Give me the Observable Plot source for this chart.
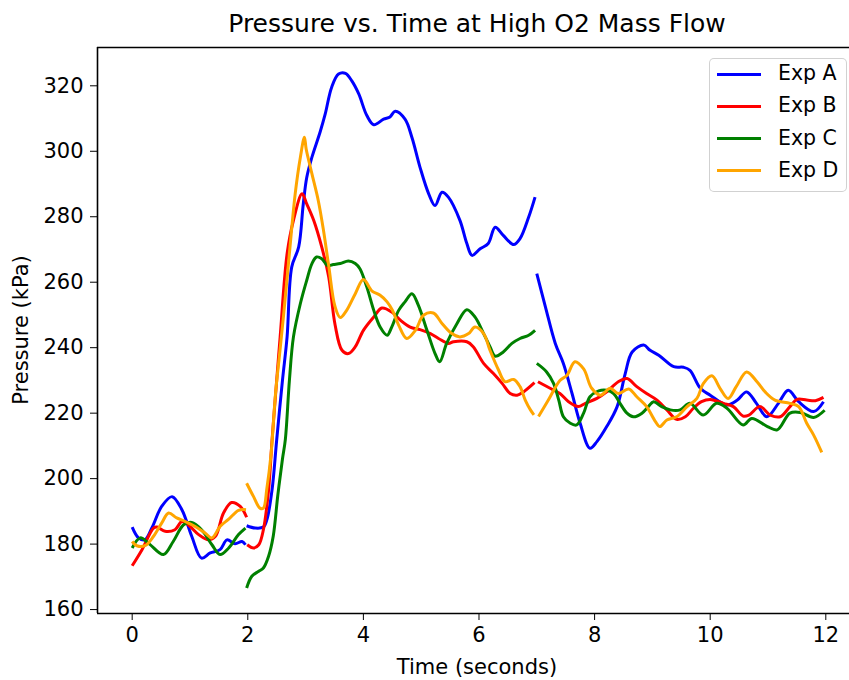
<!DOCTYPE html>
<html>
<head>
<meta charset="utf-8">
<script src="https://cdn.jsdelivr.net/npm/d3@7"></script>
<script src="https://cdn.jsdelivr.net/npm/@observablehq/plot@0.6"></script>
<style>
  html, body { margin: 0; padding: 0; background: white; }
  #wrap { position: relative; width: 849px; height: 680px; overflow: hidden; font-family: "DejaVu Sans", sans-serif; color: black; }
  .ovl { position: absolute; white-space: nowrap; line-height: 1; }
  #title { left: 477px; top: 23px; transform: translate(-50%, -50%); font-size: 25px; }
  #xlab { left: 477px; top: 667px; transform: translate(-50%, -50%); font-size: 21px; }
  #ylab { left: 21px; top: 330px; transform: translate(-50%, -50%) rotate(-90deg); font-size: 21px; }
  #legend { left: 709px; top: 58px; width: 136px; height: 132px; border: 1.5px solid rgba(204,204,204,0.9); border-radius: 5px; background: rgba(255,255,255,0.85); }
  .row { position: absolute; left: 0; height: 0; }
  .row .sw { position: absolute; left: 7px; width: 44px; height: 3px; top: -1.5px; }
  .row .lb { position: absolute; left: 68px; top: -11px; font-size: 20.5px; line-height: 1; }
</style>
</head>
<body>
<div id="wrap">
  <div id="chart"></div>
  <div class="ovl" id="title">Pressure vs. Time at High O2 Mass Flow</div>
  <div class="ovl" id="xlab">Time (seconds)</div>
  <div class="ovl" id="ylab">Pressure (kPa)</div>
  <div class="ovl" id="legend"></div>
</div>
<script>
// ---- data (NaN marks a break between recorded segments) ----
const xTicks = [0, 2, 4, 6, 8, 10, 12];
const yTicks = [160, 180, 200, 220, 240, 260, 280, 300, 320];
const seriesNames = ["Exp A", "Exp B", "Exp C", "Exp D"];
const seriesColors = ["blue", "red", "green", "orange"];

const A_time = [0, 0.11, 0.22, 0.34, 0.51, 0.69, 0.86, 1.03, 1.2, 1.35, 1.52, 1.64, 1.78, 1.9, 1.96, NaN,
  1.98, 2.13, 2.27, 2.33, 2.42, 2.5, 2.6, 2.68, 2.76, 2.88, 2.96, 3.02, 3.11, 3.25, 3.34, 3.45, 3.57, 3.69, 3.8, 3.92, 4.06, 4.18, 4.35, 4.46, 4.55, 4.72, 4.84, 4.98, 5.13, 5.24, 5.36, 5.47, 5.67, 5.79, 5.88, 6.02, 6.16, 6.28, 6.42, 6.6, 6.71, 6.86, 6.97, NaN,
  7.0, 7.15, 7.32, 7.46, 7.61, 7.75, 7.92, 8.04, 8.21, 8.39, 8.53, 8.65, 8.85, 8.96, 9.11, 9.37, 9.54, 9.65, 9.83, 10.0, 10.29, 10.47, 10.63, 10.8, 10.98, 11.18, 11.35, 11.53, 11.79, 11.96];
const A_kPa = [185.2, 181.9, 181.3, 184.9, 191.5, 194.5, 190.5, 182.4, 175.7, 177.3, 178.3, 181.3, 180.1, 180.8, 179.8, NaN,
  185.6, 184.9, 185.2, 187.4, 196.6, 211.8, 230, 243.3, 264.6, 270.7, 283.9, 292.0, 298.2, 305.8, 311.4, 319.5, 323.6, 323.8, 321.5, 317.5, 310.9, 308.1, 309.8, 310.5, 312.2, 309.8, 304.2, 295.1, 287, 283.4, 287.5, 286, 278.9, 271.8, 268.2, 270.2, 271.8, 276.8, 274.3, 271.5, 273.3, 279.9, 286, NaN,
  262.6, 252.4, 241.3, 235.2, 226, 216.9, 209.3, 211.3, 215.9, 222, 232.1, 238.7, 240.8, 239.2, 237.7, 234.2, 234, 233.1, 227.6, 225.5, 222.5, 224, 226.5, 223, 218.9, 223, 227, 223.5, 220.5, 223.5];

const B_time = [0, 0.17, 0.37, 0.43, 0.57, 0.74, 0.86, 0.97, 1.15, 1.32, 1.44, 1.58, 1.72, 1.87, 1.98, NaN,
  1.99, 2.1, 2.19, 2.27, 2.36, 2.42, 2.5, 2.56, 2.68, 2.79, 2.94, 3.02, 3.14, 3.28, 3.4, 3.51, 3.63, 3.74, 3.86, 4.0, 4.18, 4.32, 4.49, 4.64, 4.81, 4.98, 5.16, 5.3, 5.47, 5.56, 5.79, 5.9, 6.08, 6.25, 6.4, 6.54, 6.66, 6.77, 6.96, NaN,
  7.02, 7.23, 7.4, 7.55, 7.72, 7.84, 8.04, 8.21, 8.41, 8.56, 8.73, 8.9, 9.08, 9.25, 9.42, 9.57, 9.71, 9.85, 10.0, 10.23, 10.4, 10.57, 10.67, 10.86, 11.04, 11.21, 11.38, 11.5, 11.67, 11.82, 11.96];
const B_kPa = [173.4, 178.3, 184.9, 185.2, 183.9, 184.4, 186.9, 185.9, 182.9, 181.3, 182.4, 189.5, 192.7, 191.5, 188.2, NaN,
  179.8, 178.8, 179.8, 184.4, 196.6, 211.8, 230, 243.3, 268.7, 278.9, 287, 283.9, 278.9, 270.7, 261.6, 247, 239.2, 238.2, 240.3, 245.3, 249.4, 252.1, 250.9, 248.4, 246.3, 245.5, 244.3, 242.8, 241.3, 241.8, 241.8, 240.3, 235.2, 232.1, 229.1, 226, 225.5, 226.5, 229.3, NaN,
  229.6, 227.6, 226, 223.5, 222, 223, 224.5, 226.5, 229.6, 230.6, 228.1, 226, 224, 221, 218.1, 218.9, 221.5, 223.5, 224.2, 223, 222, 219.1, 219.4, 222, 219.4, 218.9, 222, 224.2, 224, 223.8, 224.8];

const C_time = [0, 0.14, 0.3, 0.54, 0.71, 0.89, 1.03, 1.2, 1.38, 1.52, 1.67, 1.84, 1.96, NaN,
  1.98, 2.07, 2.19, 2.27, 2.36, 2.44, 2.52, 2.6, 2.65, 2.72, 2.79, 2.91, 3.02, 3.11, 3.19, 3.28, 3.38, 3.48, 3.6, 3.74, 3.86, 3.94, 4.06, 4.18, 4.29, 4.41, 4.49, 4.61, 4.72, 4.84, 4.95, 5.1, 5.24, 5.32, 5.44, 5.62, 5.79, 5.93, 6.08, 6.19, 6.28, 6.42, 6.57, 6.71, 6.86, 6.97, NaN,
  7.0, 7.17, 7.29, 7.38, 7.46, 7.58, 7.69, 7.81, 7.92, 8.07, 8.21, 8.33, 8.44, 8.56, 8.67, 8.82, 8.93, 9.02, 9.16, 9.31, 9.48, 9.65, 9.88, 10.11, 10.29, 10.57, 10.72, 10.99, 11.16, 11.38, 11.56, 11.79, 11.98];
const C_kPa = [178.8, 181.9, 180, 176.8, 180.8, 185.9, 186.6, 184.4, 179.8, 176.8, 178.8, 182.9, 184.9, NaN,
  166.6, 170.2, 171.7, 172.7, 176.3, 182.4, 195, 206, 212, 230, 243.3, 253.5, 260.6, 265.7, 267.7, 267.2, 265.1, 265.4, 265.7, 266.5, 265.7, 264.1, 258.5, 251.4, 246.3, 243.8, 246.3, 251.4, 254, 256.5, 253, 245.3, 238.2, 235.7, 241.3, 247.4, 251.6, 249.4, 244.3, 240.3, 237.4, 238.7, 241.3, 242.8, 243.8, 245.3, NaN,
  235.2, 232.6, 229.1, 224, 218.9, 216.9, 216.4, 220, 225, 226.8, 227, 226, 223, 220, 218.9, 220, 222, 223.5, 222, 221, 221, 223, 219.4, 223, 221.5, 216.4, 218.4, 215.9, 214.9, 220, 220.2, 218.7, 220.9];

const D_time = [0, 0.08, 0.22, 0.37, 0.51, 0.63, 0.77, 0.92, 1.09, 1.26, 1.38, 1.52, 1.67, 1.84, 1.97, NaN,
  1.98, 2.1, 2.21, 2.27, 2.33, 2.4, 2.48, 2.55, 2.62, 2.73, 2.82, 2.91, 2.98, 3.01, 3.11, 3.22, 3.31, 3.4, 3.51, 3.6, 3.71, 3.86, 4.0, 4.15, 4.29, 4.41, 4.5, 4.61, 4.75, 4.9, 5.04, 5.21, 5.36, 5.53, 5.67, 5.82, 5.93, 6.08, 6.19, 6.34, 6.45, 6.6, 6.71, 6.8, 6.89, 6.95, NaN,
  7.03, 7.2, 7.4, 7.52, 7.66, 7.81, 7.95, 8.1, 8.27, 8.41, 8.59, 8.73, 8.9, 9.05, 9.13, 9.25, 9.42, 9.6, 9.77, 9.88, 10.03, 10.17, 10.31, 10.45, 10.63, 10.81, 10.95, 11.12, 11.38, 11.53, 11.67, 11.79, 11.93];
const D_kPa = [180.8, 179.5, 179.5, 182.4, 186.4, 189.5, 188, 186.9, 185.4, 183.4, 181.9, 185.4, 187.6, 190.3, 190.5, NaN,
  198.6, 194.5, 191, 191, 197, 207, 226, 238, 250, 270.7, 287, 298.2, 304.3, 300.7, 293.1, 284.9, 275.8, 265, 252.5, 249.2, 251.4, 256.5, 260.8, 257.3, 256, 254, 251.5, 246.9, 242.8, 245.3, 249.9, 250.6, 247.4, 244.3, 243.3, 244.3, 246.3, 244.3, 239.2, 233.1, 229.6, 230.3, 228.1, 224, 221, 219.5, NaN,
  219, 224, 230, 231.5, 235.7, 233.5, 227.6, 225.5, 227.6, 226, 227.4, 225, 222, 217.5, 215.9, 217.9, 218.9, 222, 224.5, 229, 231.4, 227.6, 224.5, 228.1, 232.6, 229.6, 226.5, 224, 223, 222, 216.9, 213.3, 208];

const times = [A_time, B_time, C_time, D_time];
const values = [A_kPa, B_kPa, C_kPa, D_kPa];

// ---- chart ----
const xDomain = [-0.6, 12.41];
const yDomain = [158.8, 331.7];

const lineMarks = seriesNames.map((name, k) =>
  Plot.line(times[k].map((t, i) => ({t, p: values[k][i]})), {
    x: "t", y: "p", stroke: seriesColors[k], strokeWidth: 3,
    curve: "catmull-rom", strokeLinejoin: "round", strokeLinecap: "butt"
  })
);

const chart = Plot.plot({
  width: 849,
  height: 680,
  marginLeft: 97,
  marginRight: 0,
  marginTop: 47,
  marginBottom: 67,
  style: {fontFamily: "DejaVu Sans", fontSize: "21px", color: "black", background: "white"},
  x: {domain: xDomain, ticks: xTicks, tickFormat: d => String(d), tickSize: 7, tickPadding: 7, label: null},
  y: {domain: yDomain, ticks: yTicks, tickFormat: d => String(d), tickSize: 7, tickPadding: 7, label: null},
  marks: [
    ...lineMarks,
    Plot.ruleY([yDomain[0], yDomain[1]], {stroke: "black", strokeWidth: 1.6}),
    Plot.ruleX([xDomain[0]], {stroke: "black", strokeWidth: 1.6})
  ]
});
document.getElementById("chart").appendChild(chart);

// ---- legend ----
const legend = document.getElementById("legend");
seriesNames.forEach((name, k) => {
  const row = document.createElement("div");
  row.className = "row";
  row.style.top = (15 + k * 32.3) + "px";
  const sw = document.createElement("div");
  sw.className = "sw";
  sw.style.background = seriesColors[k];
  const lb = document.createElement("div");
  lb.className = "lb";
  lb.textContent = name;
  row.appendChild(sw);
  row.appendChild(lb);
  legend.appendChild(row);
});
</script>
</body>
</html>
